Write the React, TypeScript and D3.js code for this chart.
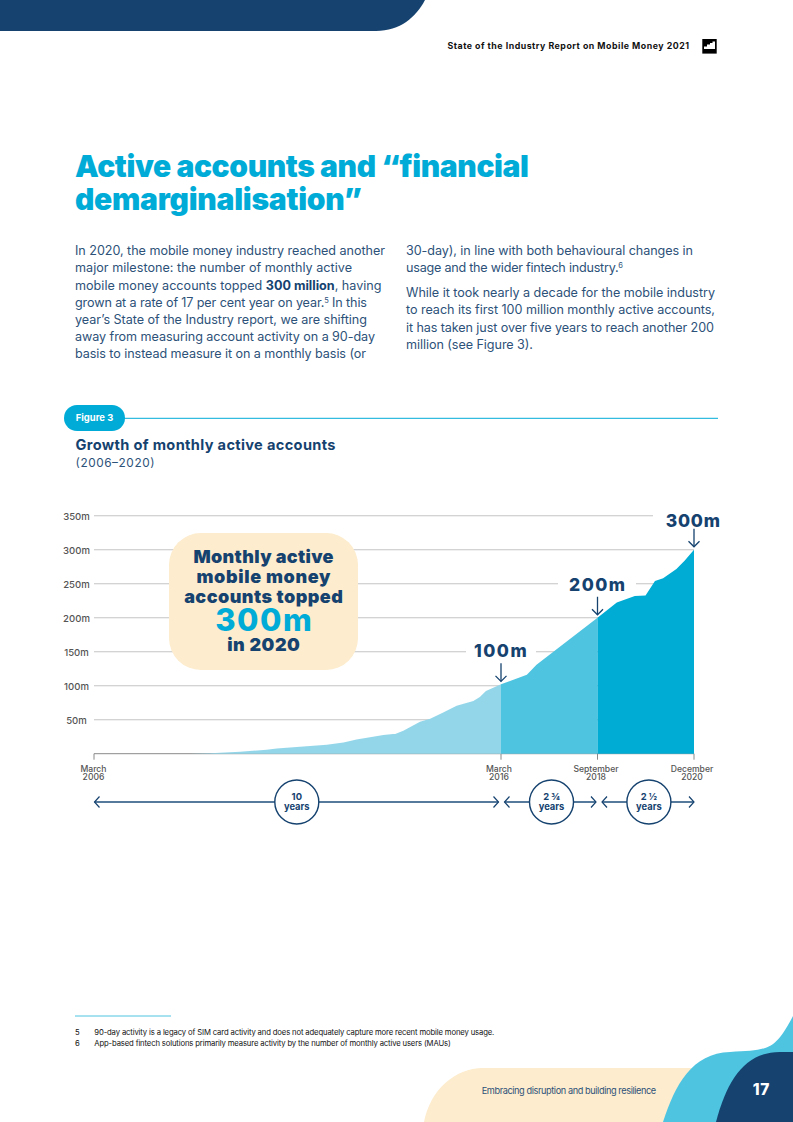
import React from "react";
import * as d3 from "d3";

const years = [2008.53,2009.02,2009.76,2010.41,2010.66,2011.23,2011.89,2012.3,2012.62,2013.28,2013.52,2013.57,2013.77,2014.18,2014.43,2014.75,2015.08,2015.49,2015.65,2015.8,2016.17,2016.84,2017.09,2018.67,2019.12,2019.54,2019.79,2020.01,2020.2,2020.51,2020.7,2020.92];
const accounts = [0,0.5,2.9,5.9,7.8,10.3,13.2,16.6,21,27.4,28.8,28.8,33.7,46.9,51.3,60.6,70.4,77.7,83.6,92.4,102,116.3,131,200,222.4,232,232.6,254,258,271.7,284,300];
const milestoneYears = [2006.17,2016.17,2018.67,2020.92];
const milestoneNames = [["March","2006"],["March","2016"],["September","2018"],["December","2020"]];
const segmentColors = ["#93d6ea","#4fc4e1","#00abd4"];
const gridValues = [50,100,150,200,250,300,350];
const spans = [["10","years"],["2 ¾","years"],["2 ½","years"]];
const callouts = [{ label:"100m", year:2016.17, value:102 },{ label:"200m", year:2018.67, value:200 },{ label:"300m", year:2020.92, value:300 }];

const NAVY = "#15426f";
const CYAN = "#00acd7";
const BODY = "#2d5279";
const FONT = "Inter, sans-serif";

const x = d3.scaleLinear().domain(milestoneYears).range([94,501,597.5,694]);
const y = d3.scaleLinear().domain([0,350]).range([753.7,515.8]);
const area = d3.area<number>().x(i => x(years[i])).y0(y(0)).y1(i => y(accounts[i]));

type TP = { x:number; y:number; w?:number; size:number; weight?:number; fill:string; anchor?:string; children:React.ReactNode };
function T({x:tx,y:ty,w,size,weight=400,fill,anchor="start",children}:TP){
  return <text x={tx} y={ty} fontFamily={FONT} fontSize={size} fontWeight={weight} fill={fill} textAnchor={anchor}
    {...(w?{textLength:w,lengthAdjust:"spacing"}:{})}>{children}</text>;
}

function HArrow({x1,x2,yy}:{x1:number;x2:number;yy:number}){
  return <g fill="none" stroke="#567a9c" strokeWidth={1.8}>
    <path d={`M${x1} ${yy}H${x2}`}/>
    <path d={`M${x1+5} ${yy-5.5}L${x1} ${yy}L${x1+5} ${yy+5.5}`} stroke={NAVY} strokeWidth={1.2}/>
    <path d={`M${x2-5} ${yy-5.5}L${x2} ${yy}L${x2-5} ${yy+5.5}`} stroke={NAVY} strokeWidth={1.2}/>
  </g>;
}

export default function App(){
  const indices = years.map((_,i)=>i);
  const segs = segmentColors.map((c,s)=>({
    c, d: area(indices.filter(i => years[i] >= (s===0?-Infinity:milestoneYears[s]) && years[i] <= milestoneYears[s+1])) as string
  }));
  const spanMid = [296.8,551.5,648.9];
  const spanEnds = [[94.5,498.5],[504.5,596],[602,694]];
  const tickLabelX = [93.5,499,596,692];
  const labelLeft = [474,569,665.7];
  const labelBase = [656.7,590.7,526.7];
  return (
    <svg width={793} height={1122} viewBox="0 0 793 1122" style={{position:"absolute",left:0,top:0,background:"#fff"}}>
      <path d="M0 0H425C416 17 400 31 376 31H0Z" fill={NAVY}/>
      <T x={447.5} y={49} w={241.5} size={8.8} weight={700} fill="#111">State of the Industry Report on Mobile Money 2021</T>
      <rect x={702.3} y={39} width={14.4} height={14.6} fill="#000"/>
      <path d="M704 49V46.5H707V44.5H710V43H712.5V41.5H715V49Z" fill="#fff"/>

      <T x={75} y={177} w={454} size={30} weight={900} fill={CYAN}>Active accounts and “financial</T>
      <T x={75} y={210} w={287} size={30} weight={900} fill={CYAN}>demarginalisation”</T>

      <g>
        <T x={75} y={255} w={310} size={12.6} fill={BODY}>In 2020, the mobile money industry reached another</T>
        <T x={75} y={272.3} w={277} size={12.6} fill={BODY}>major milestone: the number of monthly active</T>
        <T x={75} y={289.6} w={306.5} size={12.6} fill={BODY}>mobile money accounts topped <tspan fontWeight={700} fill={NAVY}>300 million</tspan>, having</T>
        <T x={75} y={306.8} w={292} size={12.6} fill={BODY}>grown at a rate of 17 per cent year on year.<tspan dy={-4} fontSize={7.5}>5</tspan><tspan dy={4}> In this</tspan></T>
        <T x={75} y={324} w={292} size={12.6} fill={BODY}>year’s State of the Industry report, we are shifting</T>
        <T x={75} y={341.2} w={300} size={12.6} fill={BODY}>away from measuring account activity on a 90-day</T>
        <T x={75} y={358.4} w={291} size={12.6} fill={BODY}>basis to instead measure it on a monthly basis (or</T>
        <T x={406} y={255} w={287} size={12.6} fill={BODY}>30-day), in line with both behavioural changes in</T>
        <T x={406} y={272} w={217} size={12.6} fill={BODY}>usage and the wider fintech industry.<tspan dy={-4} fontSize={7.5}>6</tspan></T>
        <T x={406} y={296.7} w={309} size={12.6} fill={BODY}>While it took nearly a decade for the mobile industry</T>
        <T x={406} y={314} w={309} size={12.6} fill={BODY}>to reach its first 100 million monthly active accounts,</T>
        <T x={406} y={331.6} w={308} size={12.6} fill={BODY}>it has taken just over five years to reach another 200</T>
        <T x={406} y={349} w={127} size={12.6} fill={BODY}>million (see Figure 3).</T>
      </g>

      <path d="M120 418.3H718" stroke={CYAN} strokeWidth={1}/>
      <rect x={64} y={405} width={61} height={26} rx={13} fill={CYAN}/>
      <T x={75.7} y={421} w={37.5} size={9.4} weight={700} fill="#fff">Figure 3</T>
      <T x={75.5} y={450} w={260} size={14.6} weight={700} fill={NAVY}>Growth of monthly active accounts</T>
      <T x={75.5} y={466.5} w={79} size={11.8} fill={BODY}>(2006–2020)</T>

      {gridValues.map(v=>(
        <g key={v}>
          <line x1={94} x2={694} y1={y(v)} y2={y(v)} stroke="#c4c4c4" strokeWidth={1.1}/>
          <T x={76.5} y={y(v)+4} size={9.6} weight={500} fill="#555" anchor="middle">{v}m</T>
        </g>
      ))}
      <rect x={466} y={645} width={70} height={14} fill="#fff"/>
      <rect x={558} y={577} width={78} height={14} fill="#fff"/>
      <rect x={653} y={510} width={72} height={14} fill="#fff"/>

      <path d={`M${x(milestoneYears[0])} ${y(0)+6}V${y(0)}H${x(milestoneYears[3])}`} fill="none" stroke="#8a8a8a" strokeWidth={1}/>
      {milestoneYears.slice(1).map(m=>(
        <line key={m} x1={x(m)} x2={x(m)} y1={y(0)} y2={y(0)+6} stroke="#8a8a8a" strokeWidth={1}/>
      ))}
      {segs.map(s=><path key={s.c} d={s.d} fill={s.c}/>)}

      {milestoneNames.map((n,i)=>(
        <g key={i}>
          <T x={tickLabelX[i]} y={772.3} size={8.6} weight={500} fill="#555" anchor="middle">{n[0]}</T>
          <T x={tickLabelX[i]} y={780.3} size={8.6} weight={500} fill="#555" anchor="middle">{n[1]}</T>
        </g>
      ))}

      {callouts.map((c,i)=>{
        const cx = x(c.year), tip = y(c.value)-3;
        return <g key={c.label}>
          <T x={labelLeft[i]} y={labelBase[i]} w={i===0?52.7:i===1?56:54.3} size={17.5} weight={800} fill={NAVY}>{c.label}</T>
          <g fill="none" stroke={NAVY} strokeWidth={1.3}>
            <path d={`M${cx} ${tip-18}V${tip}`}/>
            <path d={`M${cx-5.5} ${tip-5.5}L${cx} ${tip}L${cx+5.5} ${tip-5.5}`}/>
          </g>
        </g>;
      })}

      <rect x={169} y={533} width={189} height={137} rx={32} fill="#fdeccd"/>
      <T x={263.5} y={563} w={140} size={18} weight={900} fill={NAVY} anchor="middle">Monthly active</T>
      <T x={263.5} y={583} w={134} size={18} weight={900} fill={NAVY} anchor="middle">mobile money</T>
      <T x={263.5} y={603} w={158.7} size={18} weight={900} fill={NAVY} anchor="middle">accounts topped</T>
      <T x={263.5} y={631} w={96.7} size={31} weight={800} fill={CYAN} anchor="middle">300m</T>
      <T x={263.5} y={650.7} w={72.7} size={18} weight={900} fill={NAVY} anchor="middle">in 2020</T>

      {spans.map((s,i)=>(
        <g key={i}>
          <HArrow x1={spanEnds[i][0]} x2={spanEnds[i][1]} yy={802}/>
          <circle cx={spanMid[i]} cy={802} r={22} fill="#fff" stroke={NAVY} strokeWidth={1.4}/>
          <T x={spanMid[i]} y={799.8} size={9.4} weight={700} fill={NAVY} anchor="middle">{s[0]}</T>
          <T x={spanMid[i]} y={810} size={9.4} weight={700} fill={NAVY} anchor="middle">{s[1]}</T>
        </g>
      ))}

      <path d="M75 1016H171" stroke="#4fc4e1" strokeWidth={1}/>
      <T x={75} y={1034.5} size={7.7} fill="#111">5</T>
      <T x={94.3} y={1034.5} w={400} size={7.7} fill="#111">90-day activity is a legacy of SIM card activity and does not adequately capture more recent mobile money usage.</T>
      <T x={75} y={1045.7} size={7.7} fill="#111">6</T>
      <T x={94.3} y={1045.7} w={356.4} size={7.7} fill="#111">App-based fintech solutions primarily measure activity by the number of monthly active users (MAUs)</T>

      <path d="M424 1122C430 1090 455 1068 483 1068H705V1122Z" fill="#fdeccd"/>
      <path d="M663 1122C675 1085 692 1053 730 1052C770 1050 775 1050 793 1016V1122Z" fill="#4fc4e1"/>
      <path d="M716 1122C727 1080 745 1052 780 1052H793V1122Z" fill={NAVY}/>
      <T x={481.7} y={1094} w={174.5} size={9.2} fill={BODY}>Embracing disruption and building resilience</T>
      <T x={752.7} y={1095} w={16.6} size={15.5} weight={800} fill="#fff">17</T>
    </svg>
  );
}
